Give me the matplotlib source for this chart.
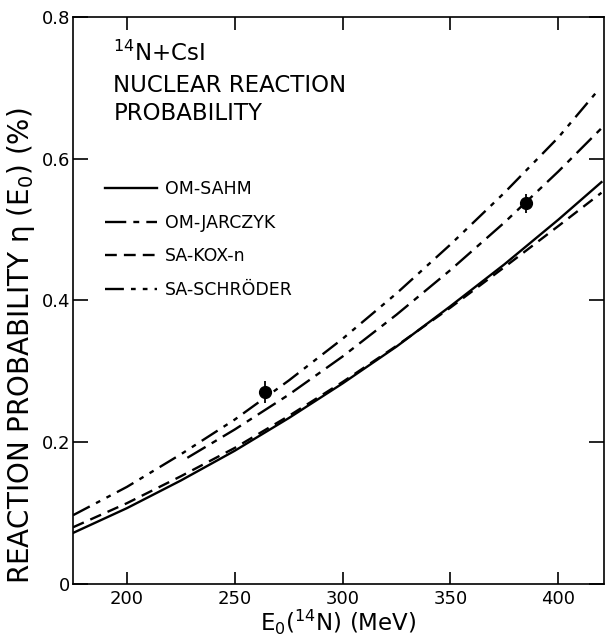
import matplotlib
matplotlib.use('Agg')
import matplotlib.pyplot as plt

plt.rcParams['font.family'] = ['DejaVu Sans']

# energia (MeV) e probabilidade de reação (%)
e_grid = [175, 200, 225, 250, 275, 300, 325, 350, 375, 400, 420]
om_sahm = [0.072, 0.107, 0.146, 0.188, 0.234, 0.283, 0.335, 0.392, 0.451, 0.514, 0.567]
sa_kox = [0.080, 0.114, 0.152, 0.192, 0.237, 0.285, 0.336, 0.390, 0.447, 0.505, 0.552]

e_jarczyk = [228, 250, 275, 300, 325, 350, 375, 400, 420]
om_jarczyk = [0.178, 0.218, 0.267, 0.321, 0.380, 0.443, 0.510, 0.582, 0.643]

e_schroeder = [175, 200, 225, 250, 275, 300, 325, 350, 375, 400, 418]
sa_schroeder = [0.097, 0.137, 0.183, 0.232, 0.287, 0.346, 0.410, 0.479, 0.552, 0.630, 0.695]

# pontos experimentais
e_exp = [264, 385]
eta_exp = [0.271, 0.537]
eta_err = [0.016, 0.013]

fig = plt.figure(figsize=(6.05, 6.36), dpi=100)
ax = fig.add_axes([0.1207, 0.0818, 0.877, 0.8915])

lw = 1.7
ax.plot(e_grid, om_sahm, color='black', lw=lw, ls='-', label='OM-SAHM')
ax.plot(e_jarczyk, om_jarczyk, color='black', lw=lw,
        ls=(0, (9, 3, 2.5, 3)), label='OM-JARCZYK')
ax.plot(e_grid, sa_kox, color='black', lw=lw,
        ls=(0, (5, 3)), label='SA-KOX-n')
ax.plot(e_schroeder, sa_schroeder, color='black', lw=lw,
        ls=(0, (8, 3, 2, 3, 2, 3)), label='SA-SCHRÖDER')

ax.errorbar(e_exp, eta_exp, yerr=eta_err, fmt='o', color='black',
            ms=8.5, elinewidth=1.3, capsize=0)

ax.set_xlim(175, 421)
ax.set_ylim(0, 0.8)
ax.set_xticks([200, 250, 300, 350, 400])
ax.set_yticks([0, 0.2, 0.4, 0.6, 0.8])
ax.set_yticklabels(['0', '0.2', '0.4', '0.6', '0.8'])
ax.tick_params(axis='both', direction='in', top=True, right=True,
               width=1.2, labelsize=13)
ax.tick_params(axis='x', length=9, pad=4)
ax.tick_params(axis='y', length=11, pad=2)
for s in ax.spines.values():
    s.set_linewidth(1.2)

ax.set_xlabel('E$_0$($^{14}$N) (MeV)', fontsize=16.5, labelpad=0.5)
ax.set_ylabel('REACTION PROBABILITY η (E$_0$) (%)', fontsize=20)
ax.yaxis.set_label_coords(-0.068, 0.42)

ax.text(0.076, 0.958, '$^{14}$N+CsI', transform=ax.transAxes,
        fontsize=16.5, va='top')
ax.text(0.076, 0.9, 'NUCLEAR REACTION\nPROBABILITY', transform=ax.transAxes,
        fontsize=16.5, va='top', linespacing=1.3)

leg = ax.legend(loc='upper left', bbox_to_anchor=(0.03, 0.74), frameon=False,
                fontsize=12.5, handlelength=3.0, handletextpad=0.5,
                labelspacing=0.9)

fig.savefig('out.png', dpi=100)
